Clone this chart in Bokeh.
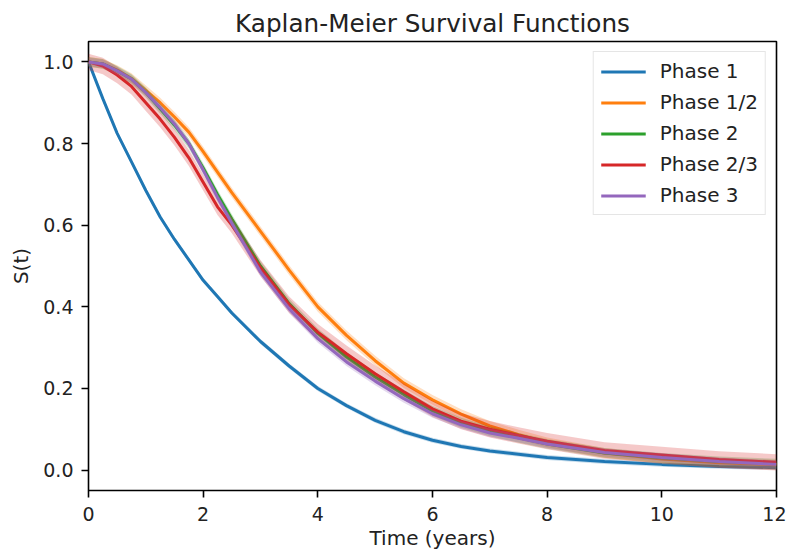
from bokeh.plotting import figure
from bokeh.models import Range1d, FixedTicker, PrintfTickFormatter, Legend, LegendItem, ColumnDataSource
from bokeh.embed import file_html
from bokeh.resources import INLINE

# ---- data ----
time_years = [0, 0.25, 0.5, 0.75, 1.0, 1.25, 1.5, 1.75, 2.0, 2.25, 2.5, 3.0, 3.5,
              4.0, 4.5, 5.0, 5.5, 6.0, 6.5, 7.0, 7.5, 8.0, 9.0, 10.0, 11.0, 12.0]

phase_1 = [1.0, 0.91, 0.825, 0.755, 0.685, 0.62, 0.565, 0.515, 0.465, 0.425, 0.385, 0.315, 0.255,
           0.200, 0.158, 0.122, 0.094, 0.073, 0.058, 0.047, 0.039, 0.031, 0.021, 0.014, 0.009, 0.006]
phase_1_2 = [1.0, 0.995, 0.98, 0.96, 0.93, 0.90, 0.865, 0.828, 0.78, 0.73, 0.68, 0.585, 0.49,
             0.40, 0.33, 0.268, 0.213, 0.172, 0.137, 0.108, 0.087, 0.068, 0.042, 0.027, 0.018, 0.013]
phase_2 = [1.0, 0.995, 0.978, 0.958, 0.925, 0.885, 0.845, 0.80, 0.74, 0.675, 0.615, 0.50, 0.408,
           0.335, 0.277, 0.228, 0.185, 0.145, 0.116, 0.095, 0.079, 0.064, 0.042, 0.030, 0.021, 0.016]
phase_2_3 = [1.0, 0.99, 0.968, 0.94, 0.90, 0.86, 0.815, 0.765, 0.705, 0.645, 0.60, 0.495, 0.405,
             0.338, 0.285, 0.236, 0.192, 0.150, 0.120, 0.100, 0.085, 0.071, 0.048, 0.037, 0.026, 0.019]
phase_3 = [1.0, 0.995, 0.978, 0.958, 0.925, 0.888, 0.848, 0.80, 0.735, 0.668, 0.605, 0.485, 0.395,
           0.322, 0.265, 0.218, 0.175, 0.138, 0.111, 0.091, 0.078, 0.064, 0.043, 0.031, 0.021, 0.014]

series_names = ["Phase 1", "Phase 1/2", "Phase 2", "Phase 2/3", "Phase 3"]
series_values = [phase_1, phase_1_2, phase_2, phase_2_3, phase_3]
ci_halfwidth = [0.006, 0.012, 0.012, 0.02, 0.01]

x_ticks = [0, 2, 4, 6, 8, 10, 12]
y_ticks = [0.0, 0.2, 0.4, 0.6, 0.8, 1.0]

colors = ["#1f77b4", "#ff7f0e", "#2ca02c", "#d62728", "#9467bd"]
FONT = "DejaVu Sans"
TEXT = "#222222"

p = figure(width=786, height=554,
           x_range=Range1d(0, 12), y_range=Range1d(-0.05, 1.05),
           output_backend="svg", toolbar_location=None,
           title="Kaplan-Meier Survival Functions",
           min_border_left=88, min_border_right=10, min_border_top=41, min_border_bottom=64)

p.background_fill_color = "white"
p.border_fill_color = "white"
p.outline_line_color = "black"
p.outline_line_width = 1.6
p.xgrid.visible = False
p.ygrid.visible = False

p.title.text_font = FONT
p.title.text_font_size = "24.7px"
p.title.text_font_style = "normal"
p.title.text_color = TEXT
p.title.align = "center"
p.title.vertical_align = "bottom"
p.title.standoff = 7

items = []
for name, vals, hw, c in zip(series_names, series_values, ci_halfwidth, colors):
    lower = [v - hw for v in vals]
    upper = [v + hw for v in vals]
    src = ColumnDataSource(dict(t=time_years, s=vals, lo=lower, hi=upper))
    p.varea(x="t", y1="lo", y2="hi", source=src, fill_color=c, fill_alpha=0.25)
    r = p.line(x="t", y="s", source=src, line_color=c, line_width=3)
    items.append(LegendItem(label=name, renderers=[r]))

legend = Legend(items=items, location="top_right")
legend.label_text_font = FONT
legend.label_text_font_size = "20px"
legend.label_text_color = TEXT
legend.glyph_width = 45
legend.glyph_height = 21
legend.label_height = 21
legend.spacing = 7
legend.padding = 7
legend.margin = 10
legend.label_standoff = 14
legend.border_line_color = "#cccccc"
legend.border_line_width = 1
legend.background_fill_alpha = 0.8
p.add_layout(legend)

for ax in (p.xaxis[0], p.yaxis[0]):
    ax.axis_line_color = None
    ax.major_tick_line_color = "black"
    ax.major_tick_line_width = 1.6
    ax.major_tick_out = 7
    ax.major_tick_in = 0
    ax.minor_tick_line_color = None
    ax.major_label_text_font = FONT
    ax.major_label_text_font_size = "19px"
    ax.major_label_text_color = TEXT
    ax.axis_label_text_font = FONT
    ax.axis_label_text_font_size = "20px"
    ax.axis_label_text_font_style = "normal"
    ax.axis_label_text_color = TEXT

p.xaxis.ticker = FixedTicker(ticks=x_ticks)
p.yaxis.ticker = FixedTicker(ticks=y_ticks)
p.xaxis.formatter = PrintfTickFormatter(format="%d")
p.yaxis.formatter = PrintfTickFormatter(format="%.1f")
p.xaxis.axis_label = "Time (years)"
p.yaxis.axis_label = "S(t)"
p.xaxis.major_label_standoff = 9
p.xaxis.axis_label_standoff = 2
p.yaxis.major_label_standoff = 8
p.yaxis.axis_label_standoff = 7

open("out.html", "w").write(file_html(p, INLINE))
